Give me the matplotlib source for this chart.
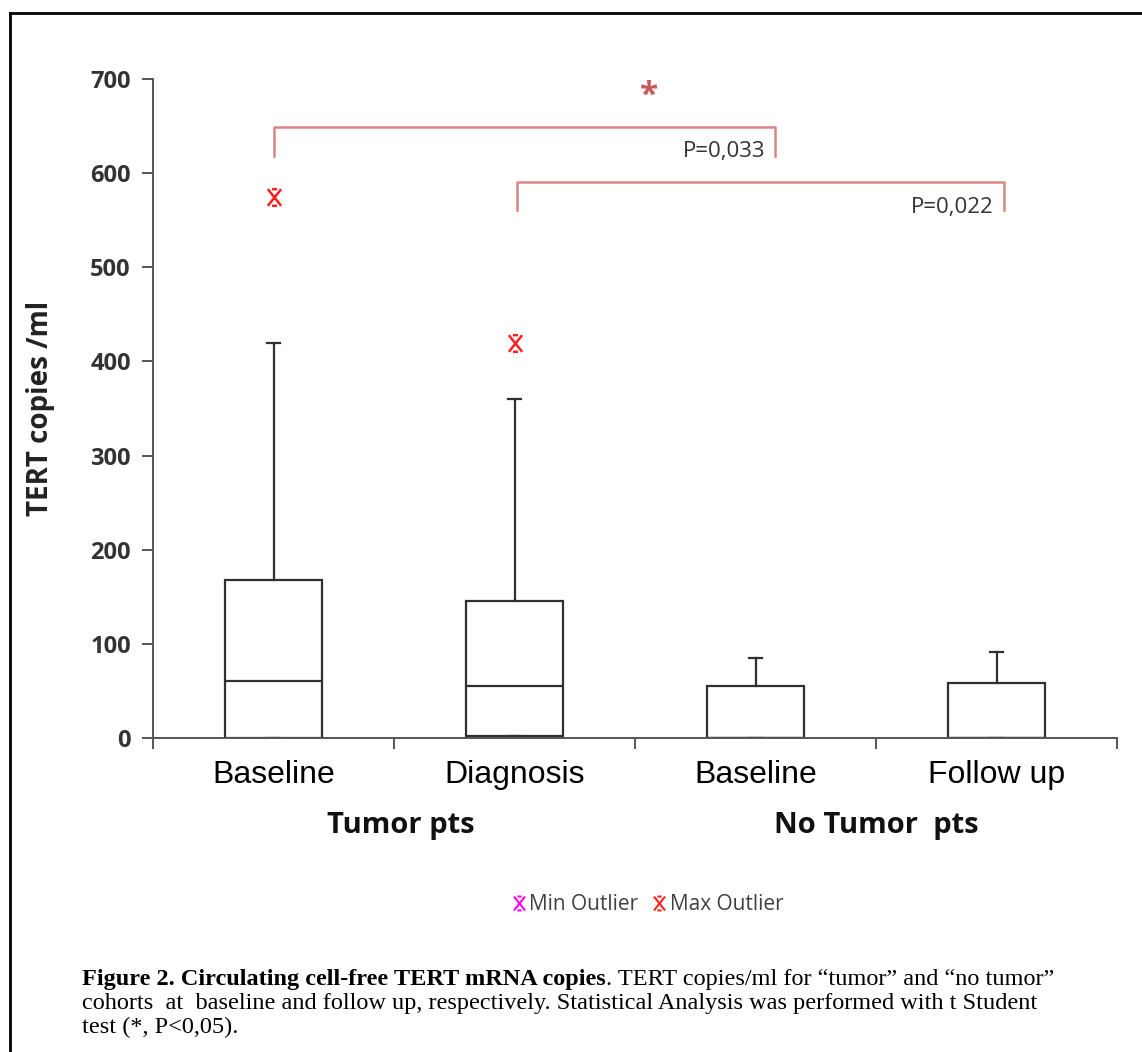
import matplotlib
matplotlib.use("Agg")
import matplotlib.pyplot as plt
from matplotlib.path import Path
from matplotlib.lines import Line2D
from matplotlib.transforms import blended_transform_factory

# box statistics (TERT copies/ml)
categories = ["Baseline", "Diagnosis", "Baseline", "Follow up"]
groups = ["Tumor pts", "No Tumor  pts"]
q1 = [0, 2, 0, 0]
median = [61, 55, 0, 0]
q3 = [168, 146, 55, 58]
whisker_low = [0, 2, 0, 0]
whisker_high = [420, 360, 85, 91]
max_outliers = [[575], [420], [], []]
min_outliers = [[], [], [], []]

# significance brackets (x in category units, y in copies/ml)
bracket_x = [(1.0, 3.08), (2.01, 4.03)]
bracket_top = [649, 591]
bracket_leg = [618, 561]
p_labels = ["P=0,033", "P=0,022"]
p_label_y = [623, 564]
star_x, star_y = 2.56, 682

caption_bold = "Figure 2. Circulating cell-free TERT mRNA copies"
caption_lines = [
    ". TERT copies/ml for \u201ctumor\u201d and \u201cno tumor\u201d",
    "cohorts  at  baseline and follow up, respectively. Statistical Analysis was performed with t Student",
    "test (*, P<0,05).",
]

W, H = 1142, 1052
fig = plt.figure(figsize=(W / 100, H / 100), dpi=100)
fig.patch.set_facecolor("white")

# axes placed in pixels: y axis at x=153, plot from y=79 (700) to y=738 (0)
ax_left, ax_right, ax_top, ax_bottom = 153, 1117, 79, 738
ax = fig.add_axes([ax_left / W, 1 - ax_bottom / H, (ax_right - ax_left) / W, (ax_bottom - ax_top) / H])

# Excel-style outlier marker: an X with short serifs top and bottom
xmark = Path(
    [(-0.8, -1), (0.8, 1), (-0.8, 1), (0.8, -1), (-0.3, 1), (0.3, 1), (-0.3, -1), (0.3, -1)],
    [Path.MOVETO, Path.LINETO, Path.MOVETO, Path.LINETO, Path.MOVETO, Path.LINETO, Path.MOVETO, Path.LINETO],
)

positions = list(range(1, len(categories) + 1))
stats = []
for i in range(len(categories)):
    stats.append(dict(med=median[i], q1=q1[i], q3=q3[i], whislo=whisker_low[i],
                      whishi=whisker_high[i], fliers=max_outliers[i] + min_outliers[i]))

box_color = "#303030"
ax.bxp(stats, positions=positions, widths=0.4, capwidths=0.05, patch_artist=True,
       boxprops=dict(facecolor="white", edgecolor=box_color, linewidth=1.6),
       medianprops=dict(color=box_color, linewidth=1.6),
       whiskerprops=dict(color=box_color, linewidth=1.6),
       capprops=dict(color=box_color, linewidth=1.6),
       flierprops=dict(marker=xmark, markersize=12, markeredgecolor="#ff2020",
                       markerfacecolor="none", markeredgewidth=1.8, linestyle="none"))

ax.set_xlim(0.5, 4.5)
ax.set_ylim(0, 700)
for side in ("top", "right"):
    ax.spines[side].set_visible(False)
for side in ("left", "bottom"):
    ax.spines[side].set_color("#555555")
    ax.spines[side].set_linewidth(1.4)

tick_font = dict(family="Open Sans", weight="bold", size=17, color="#333333")
ax.set_yticks(range(0, 701, 100))
ax.set_yticklabels([str(v) for v in range(0, 701, 100)], fontdict=tick_font)
ax.tick_params(axis="y", direction="out", length=8, width=1.4, color="#555555", pad=8)

# major ticks between categories, category names on minor ticks
ax.set_xticks([0.5, 1.5, 2.5, 3.5, 4.5])
ax.set_xticklabels([])
ax.set_xticks(positions, minor=True)
ax.set_xticklabels(categories, minor=True, family="Liberation Sans", size=23, color="black")
ax.tick_params(axis="x", which="major", direction="out", length=8, width=1.4, color="#555555")
ax.tick_params(axis="x", which="minor", length=0, pad=16)

ax.set_ylabel("TERT copies /ml", family="Open Sans", weight="bold", size=20, color="#222222")
ax.yaxis.set_label_coords(-(ax_left - 55) / (ax_right - ax_left), 0.5)

# group labels under the categories
trans = blended_transform_factory(ax.transData, ax.transAxes)
group_y = -(825 - ax_bottom) / (ax_bottom - ax_top)
group_font = dict(family="Open Sans", weight="bold", size=21, color="#111111")
ax.text((positions[0] + positions[1]) / 2 + 0.03, group_y, groups[0], transform=trans,
        ha="center", va="center", **group_font)
ax.text((positions[2] + positions[3]) / 2 + 0.0, group_y, groups[1], transform=trans,
        ha="center", va="center", **group_font)

# significance brackets
br_color = "#d98585"
for (xa, xb), top, leg, lab, ly in zip(bracket_x, bracket_top, bracket_leg, p_labels, p_label_y):
    ax.plot([xa, xa, xb, xb], [leg, top, top, leg], color=br_color, linewidth=1.8, clip_on=False)
    ax.text(xb - 0.04, ly, lab, ha="right", va="center", family="Open Sans", size=16, color="#333333")
ax.text(star_x, star_y, "*", ha="center", va="center", family="Open Sans", weight="bold",
        size=24, color="#c85a5a")

# legend with min / max outlier markers
handles = [
    Line2D([], [], marker=xmark, markersize=10, markeredgecolor="#ff00ff", markerfacecolor="none",
           markeredgewidth=1.5, linestyle="none", label="Min Outlier"),
    Line2D([], [], marker=xmark, markersize=10, markeredgecolor="#ff2020", markerfacecolor="none",
           markeredgewidth=1.5, linestyle="none", label="Max Outlier"),
]
legend_y = -(905 - ax_bottom) / (ax_bottom - ax_top)
ax.legend(handles=handles, loc="center", bbox_to_anchor=((648 - ax_left) / (ax_right - ax_left), legend_y),
          ncol=2, frameon=False, handlelength=0.6, handletextpad=0.2, columnspacing=0.7,
          prop=dict(family="Open Sans", size=15), labelcolor="#404040")

# figure frame (left and top edges visible)
frame_x, frame_y = 10 / W, 1 - 13 / H
fig.add_artist(Line2D([frame_x, frame_x], [0, frame_y], color="black", linewidth=2))
fig.add_artist(Line2D([frame_x, 1], [frame_y, frame_y], color="black", linewidth=2))

# caption, first line starts bold
cap_x = 82 / W
cap_font = dict(family="Liberation Serif", size=17.5, color="black")
line_gap = 24
first_base = 985
t1 = fig.text(cap_x, 1 - first_base / H, caption_bold, va="baseline", ha="left", weight="bold", **cap_font)
ax.annotate(caption_lines[0], xy=(1, 0), xycoords=t1, va="bottom", ha="left",
            annotation_clip=False, **cap_font)
for k, line in enumerate(caption_lines[1:], start=1):
    fig.text(cap_x, 1 - (first_base + k * line_gap) / H, line, va="baseline", ha="left", **cap_font)

fig.savefig("out.png", dpi=100)
